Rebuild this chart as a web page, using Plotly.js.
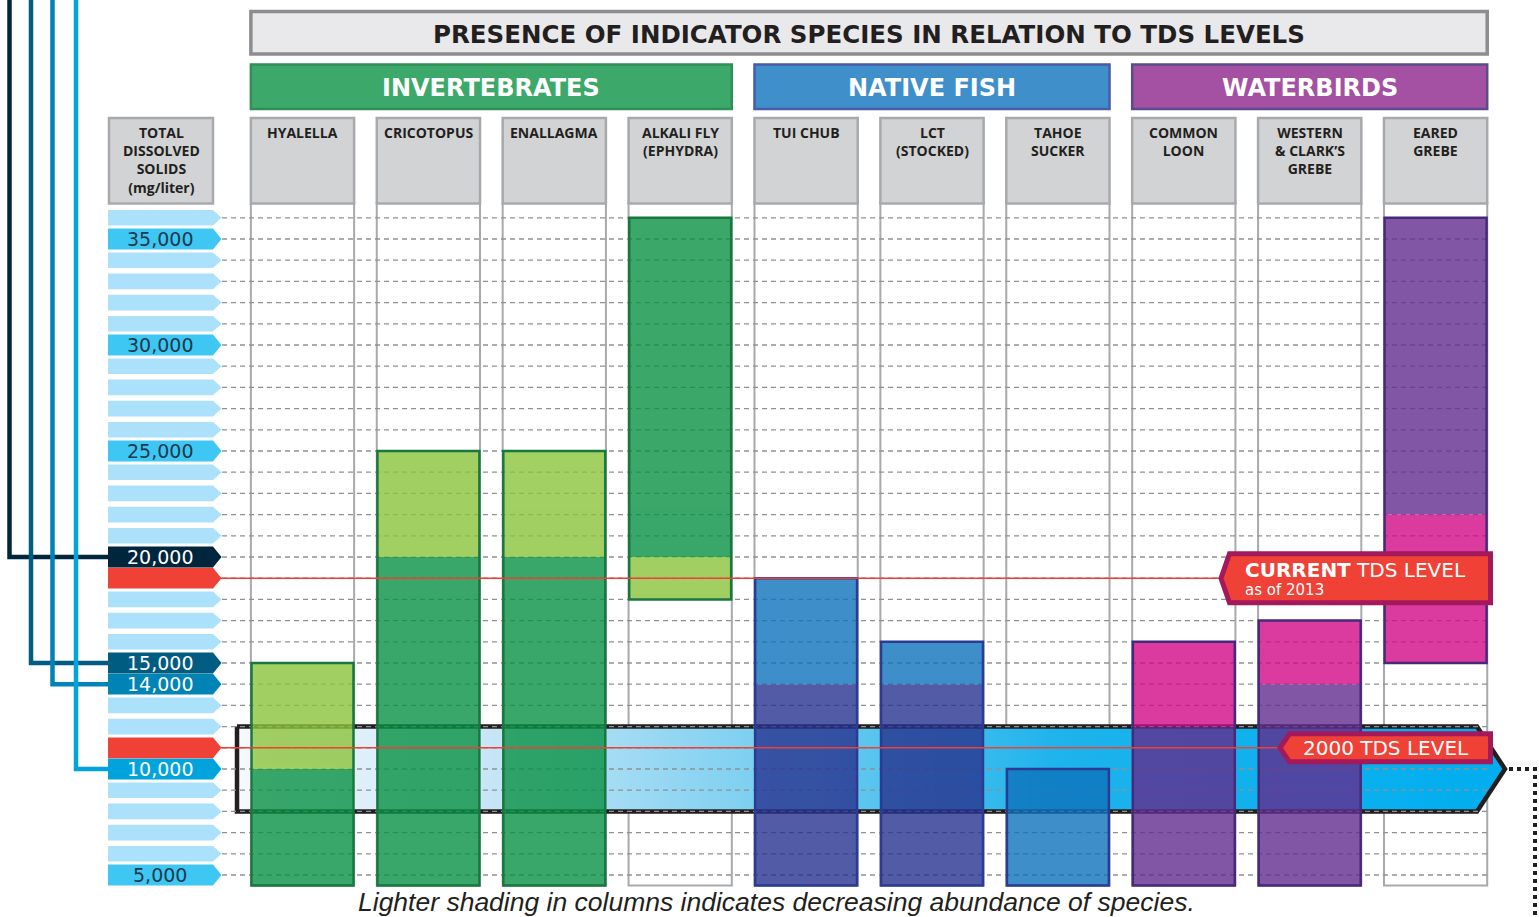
<!DOCTYPE html>
<html><head><meta charset="utf-8">
<script src="https://cdn.plot.ly/plotly-3.0.1.min.js"></script>
<style>html,body{margin:0;padding:0;background:#fff}#chart{width:1539px;height:917px}</style>
</head><body><div id="chart"></div>
<script>
// ---------------- DATA ----------------
const species = ['HYALELLA','CRICOTOPUS','ENALLAGMA','ALKALI FLY<br>(EPHYDRA)','TUI CHUB','LCT<br>(STOCKED)','TAHOE<br>SUCKER','COMMON<br>LOON','WESTERN<br>& CLARK’S<br>GREBE','EARED<br>GREBE'];
const groups = ['INVERTEBRATES','NATIVE FISH','WATERBIRDS'];
const groupOf = [0,0,0,0,1,1,1,2,2,2];
// abundant range (darker shading), mg/L
const abundantLow  = [4500, 4500, 4500, 20000, 4500, 4500, null, 4500, 4500, 22000];
const abundantHigh = [10000,20000,20000,36000,14000,14000, null,12000,14000,36000];
// decreasing abundance (lighter shading), mg/L
const decreasingLow  = [10000,20000,20000,18000,14000,14000, 4500,12000,14000,15000];
const decreasingHigh = [15000,25000,25000,20000,19000,16000,10000,16000,17000,22000];
const tdsTicks = [5000,6000,7000,8000,9000,10000,11000,12000,13000,14000,15000,16000,17000,18000,19000,20000,
                  21000,22000,23000,24000,25000,26000,27000,28000,29000,30000,31000,32000,33000,34000,35000,36000];
const tickLabelValues = [5000,10000,14000,15000,20000,25000,30000,35000];
const tickLabelTexts  = ['5,000','10,000','14,000','15,000','20,000','25,000','30,000','35,000'];
const currentTDS = 19000;          // current TDS level as of 2013
const tds2000 = 11000;             // 2000 TDS level
const band2000 = [8000, 12000];    // highlighted band
const floorTDS = 4500;

// ---------------- LAYOUT HELPERS ----------------
const W = 1539, H = 917;
const PX_PER_TDS = 0.0212, Y_AT_5000 = 875;
const Y1 = 5000 + Y_AT_5000/PX_PER_TDS;
const Y0 = Y1 - H/PX_PER_TDS;
const COL0 = 302.5, COLSTEP = 125.9;
const X0 = -COL0/COLSTEP, X1 = (W-COL0)/COLSTEP;
const xp = p => p/W;
const yp = p => 1 - p/H;
const xd = p => X0 + p/COLSTEP;
const yAtPx = p => Y1 - p/PX_PER_TDS;
const pxOf = v => (Y1 - v)*PX_PER_TDS;
const HALF = 0.41;

const groupDark  = ['#0a9245','#27338f','#612d8f'];
const groupLight = ['#8cc43c','#0e72bc','#d30a88'];
const groupEdge  = ['#17773f','#2a3b93','#47297a'];
const groupHead  = ['#3ca86a','#3f8fcb','#a450a3'];
const groupHeadEdge = ['#2f8f55','#4a5aa8','#5b4b8b'];

const idx = species.map((_,i)=>i);
const traces = [];

// 2000 band (gradient arrow) on base subplot
const bMid = (band2000[0]+band2000[1])/2;
traces.push({
  type:'scatter', mode:'lines', hoverinfo:'skip', xaxis:'x', yaxis:'y',
  x:[xd(237), xd(1477), xd(1505), xd(1477), xd(237), xd(237)],
  y:[band2000[1], band2000[1], bMid, band2000[0], band2000[0], band2000[1]],
  fill:'toself',
  fillgradient:{type:'horizontal', colorscale:[[0,'#f6f9fd'],[0.2,'#c6e6f7'],[0.45,'#6ecbef'],[0.65,'#1db3ec'],[1,'#00aeef']]},
  line:{color:'#231f20', width:4.5}
});

// gridlines
const gx=[], gy=[];
tdsTicks.forEach(v=>{ gx.push(xd(222), xd(1488), null); gy.push(v, v, null); });
traces.push({type:'scatter', mode:'lines', hoverinfo:'skip', xaxis:'x', yaxis:'y', x:gx, y:gy,
  line:{color:'#8f9194', width:1.3, dash:'5px,4px'}});

// bars on overlaying subplot (drawn above band & grid)
traces.push({type:'bar', xaxis:'x2', yaxis:'y2', x:idx, base:abundantLow,
  y:abundantHigh.map((h,i)=> h==null?null:h-abundantLow[i]),
  width:0.8, opacity:0.8, hoverinfo:'skip',
  marker:{color:idx.map(i=>groupDark[groupOf[i]]), line:{width:0}}});
traces.push({type:'bar', xaxis:'x2', yaxis:'y2', x:idx, base:decreasingLow,
  y:decreasingHigh.map((h,i)=> h==null?null:h-decreasingLow[i]),
  width:0.8, opacity:0.8, hoverinfo:'skip',
  marker:{color:idx.map(i=>groupLight[groupOf[i]]), line:{width:0}}});
const lowAll = idx.map(i=>Math.min(...[abundantLow[i],decreasingLow[i]].filter(v=>v!=null)));
const highAll = idx.map(i=>Math.max(...[abundantHigh[i],decreasingHigh[i]].filter(v=>v!=null)));
traces.push({type:'bar', xaxis:'x2', yaxis:'y2', x:idx, base:lowAll, y:highAll.map((h,i)=>h-lowAll[i]),
  width:0.81, hoverinfo:'skip',
  marker:{color:'rgba(0,0,0,0)', line:{width:2.5, color:idx.map(i=>groupEdge[groupOf[i]])}}});

// ---------------- SHAPES ----------------
const shapes = [];
idx.forEach(i=>{
  shapes.push({type:'rect', layer:'below', xref:'x', yref:'y', x0:i-HALF, x1:i+HALF, y0:floorTDS, y1:yAtPx(203),
    fillcolor:'#ffffff', line:{color:'#a7a9ac', width:2}});
  shapes.push({type:'rect', layer:'above', xref:'x', yref:'paper', x0:i-HALF, x1:i+HALF, y0:yp(203.5), y1:yp(118),
    fillcolor:'#d1d3d4', line:{color:'#a7a9ac', width:2.5}});
});
shapes.push({type:'rect', layer:'above', xref:'paper', yref:'paper', x0:xp(109), x1:xp(213), y0:yp(203.5), y1:yp(118),
  fillcolor:'#d1d3d4', line:{color:'#a7a9ac', width:2.5}});
groups.forEach((g,k)=>{
  const cols = idx.filter(i=>groupOf[i]===k);
  shapes.push({type:'rect', layer:'above', xref:'x', yref:'paper', x0:cols[0]-HALF, x1:cols[cols.length-1]+HALF,
    y0:yp(109), y1:yp(64.5), fillcolor:groupHead[k], line:{color:groupHeadEdge[k], width:2.5}});
});
shapes.push({type:'rect', layer:'above', xref:'x', yref:'paper', x0:-HALF, x1:9+HALF, y0:yp(54), y1:yp(11.5),
  fillcolor:'#e9e9eb', line:{color:'#8d8d8f', width:3.5}});

function arrowPath(v, hPx){
  const h = hPx/PX_PER_TDS;
  return `M ${xp(108)},${v+h} L ${xp(213)},${v+h} L ${xp(221.5)},${v} L ${xp(213)},${v-h} L ${xp(108)},${v-h} Z`;
}
const specialColor = {5000:'#3fc7f4',10000:'#00a3dc',14000:'#0083b5',15000:'#005c80',20000:'#00263d',25000:'#3fc7f4',30000:'#3fc7f4',35000:'#3fc7f4'};
tdsTicks.forEach(v=>{
  let col = '#abe1fa', h = 7.8;
  if (v===currentTDS || v===tds2000){ col = '#ef4136'; h = 10.4; }
  else if (specialColor[v]){ col = specialColor[v]; h = 10.4; }
  shapes.push({type:'path', layer:'above', xref:'paper', yref:'y', path:arrowPath(v,h), fillcolor:col, line:{width:0}});
});
const connLevels = [20000,15000,14000,10000];
const connX = [9.5,31,52.5,76];
connLevels.forEach((v,k)=>{
  shapes.push({type:'path', layer:'above', xref:'paper', yref:'y',
    path:`M ${xp(connX[k])},${Y1+2000} L ${xp(connX[k])},${v} L ${xp(108)},${v}`,
    fillcolor:'rgba(0,0,0,0)', line:{color:specialColor[v], width:4.5}});
});
shapes.push({type:'line', layer:'above', xref:'paper', yref:'y', x0:xp(221), x1:xp(1222), y0:currentTDS, y1:currentTDS,
  line:{color:'#ef4136', width:1.6}});
shapes.push({type:'line', layer:'above', xref:'paper', yref:'y', x0:xp(221), x1:xp(1281), y0:tds2000, y1:tds2000,
  line:{color:'#ef4136', width:1.6}});
function tagPath(cy, left, right, halfH, point){
  return `M ${xp(left)},${yp(cy)} L ${xp(left+point)},${yp(cy-halfH)} L ${xp(right)},${yp(cy-halfH)} L ${xp(right)},${yp(cy+halfH)} L ${xp(left+point)},${yp(cy+halfH)} Z`;
}
const cyCur = pxOf(currentTDS), cy2000 = pxOf(tds2000);
shapes.push({type:'path', layer:'above', xref:'paper', yref:'paper', path:tagPath(cyCur, 1221, 1490.5, 24.5, 8.5),
  fillcolor:'#ef4136', line:{color:'#a3195b', width:5}});
shapes.push({type:'path', layer:'above', xref:'paper', yref:'paper', path:tagPath(cy2000, 1280, 1490.5, 14, 9.5),
  fillcolor:'#ef4136', line:{color:'#a3195b', width:5}});
shapes.push({type:'path', layer:'above', xref:'paper', yref:'paper',
  path:`M ${xp(1509)},${yp(pxOf(bMid))} L ${xp(1535)},${yp(pxOf(bMid))} L ${xp(1535)},${yp(917)}`,
  fillcolor:'rgba(0,0,0,0)', line:{color:'#231f20', width:4, dash:'dot'}});

// ---------------- ANNOTATIONS ----------------
const F = '"Open Sans", "DejaVu Sans", sans-serif';
const FD = '"DejaVu Sans", sans-serif';
const ann = [];
function A(o){ ann.push(Object.assign({showarrow:false, xanchor:'center', yanchor:'middle'}, o)); }
A({xref:'paper', yref:'paper', x:xp(869), y:yp(35), text:'<b>PRESENCE OF INDICATOR SPECIES IN RELATION TO TDS LEVELS</b>',
  font:{family:FD, size:24.5, color:'#231f20'}});
groups.forEach((g,k)=>{
  const cols = idx.filter(i=>groupOf[i]===k);
  A({xref:'x', yref:'paper', x:(cols[0]+cols[cols.length-1])/2, y:yp(88.5), text:'<b>'+g+'</b>',
    font:{family:FD, size:24, color:'#ffffff'}});
});
idx.forEach(i=>{
  A({xref:'x', yref:'paper', x:i, y:yp(121), yanchor:'top', text:'<b>'+species[i]+'</b>',
    font:{family:F, size:14, color:'#231f20'}});
});
A({xref:'paper', yref:'paper', x:xp(161), y:yp(121), yanchor:'top',
  text:'<b>TOTAL<br>DISSOLVED<br>SOLIDS<br>(mg/liter)</b>', font:{family:F, size:14, color:'#231f20'}});
tickLabelValues.forEach((v,k)=>{
  const c = specialColor[v];
  const dark = (c==='#3fc7f4');
  A({xref:'paper', yref:'y', x:xp(160), y:v, text:tickLabelTexts[k],
    font:{family:FD, size:19, color: dark ? '#1b3a4c' : '#ffffff'}});
});
A({xref:'paper', yref:'paper', x:xp(1244), y:yp(cyCur-8), xanchor:'left', borderpad:0,
  text:'<b>CURRENT</b> TDS LEVEL', font:{family:FD, size:20, color:'#ffffff'}});
A({xref:'paper', yref:'paper', x:xp(1244), y:yp(cyCur+11.5), xanchor:'left', borderpad:0,
  text:'as of 2013', font:{family:FD, size:15, color:'#ffffff'}});
A({xref:'paper', yref:'paper', x:xp(1386), y:yp(cy2000+0.5), text:'2000 TDS LEVEL',
  font:{family:FD, size:20, color:'#ffffff'}});
A({xref:'paper', yref:'paper', x:xp(776), y:yp(902), text:'<i>Lighter shading in columns indicates decreasing abundance of species.</i>',
  font:{family:'"Liberation Sans", Arial, sans-serif', size:26.5, color:'#231f20'}});

const ax = {range:[X0,X1], visible:false, fixedrange:true, showgrid:false, zeroline:false};
const ay = {range:[Y0,Y1], visible:false, fixedrange:true, showgrid:false, zeroline:false};
const layout = {
  width:W, height:H, margin:{l:0,r:0,t:0,b:0}, paper_bgcolor:'#ffffff', plot_bgcolor:'rgba(0,0,0,0)',
  showlegend:false, hovermode:false, barmode:'overlay',
  xaxis:ax, yaxis:ay,
  xaxis2:Object.assign({}, ax, {overlaying:'x'}), yaxis2:Object.assign({}, ay, {overlaying:'y'}),
  shapes:shapes, annotations:ann
};
Plotly.newPlot('chart', traces, layout, {displayModeBar:false, staticPlot:true});
</script></body></html>
